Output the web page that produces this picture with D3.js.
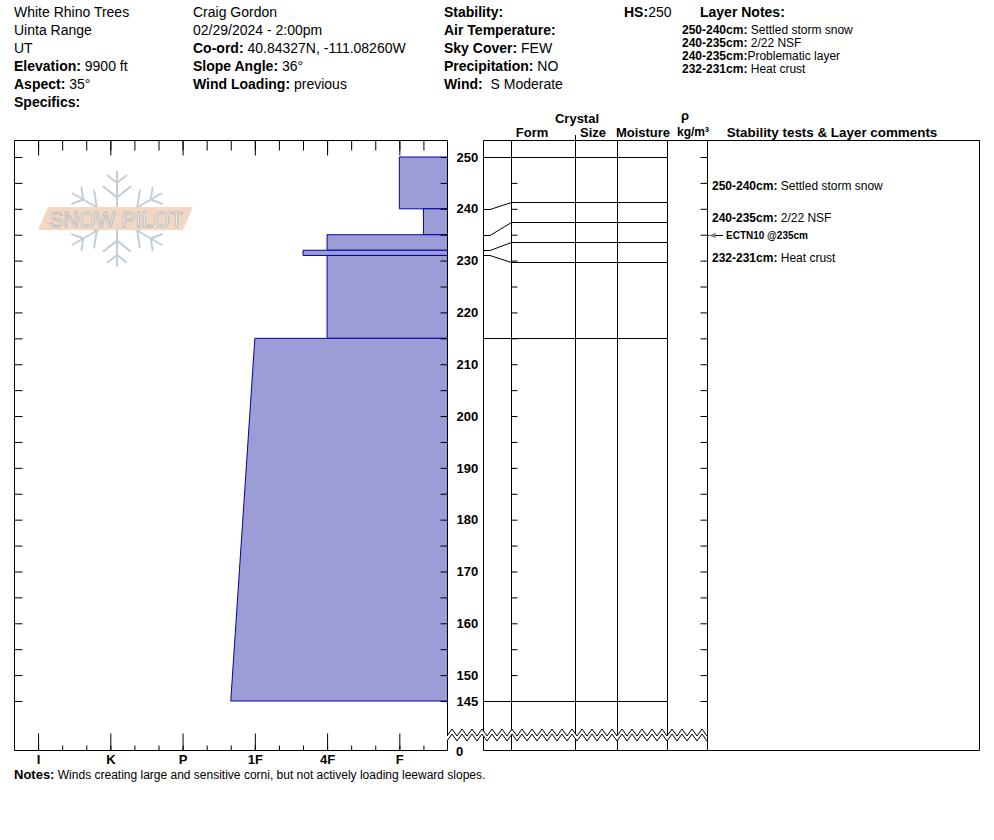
<!DOCTYPE html>
<html>
<head>
<meta charset="utf-8">
<script src="https://cdn.jsdelivr.net/npm/d3@7/dist/d3.min.js"></script>
<style>
	body { margin: 0; background: #fff; }
	svg text { font-family: "Liberation Sans", Arial, sans-serif; white-space: pre; }
</style>
</head>
<body>
<svg id="chart" width="994" height="840"></svg>
<script>
// ---------------------------------------------------------------
// Data read off the snow pit
// ---------------------------------------------------------------
const siteLines     = [["", "White Rhino Trees"], ["", "Uinta Range"], ["", "UT"], ["Elevation:", " 9900 ft"], ["Aspect:", " 35°"], ["Specifics:", ""]];
const observerLines = [["", "Craig Gordon"], ["", "02/29/2024 - 2:00pm"], ["Co-ord:", " 40.84327N, -111.08260W"], ["Slope Angle:", " 36°"], ["Wind Loading:", " previous"]];
const weatherLines  = [["Stability:", ""], ["Air Temperature:", ""], ["Sky Cover:", " FEW"], ["Precipitation:", " NO"], ["Wind:", "  S Moderate"]];
const snowHeight    = 250;

const noteRanges = ["250-240cm:", "240-235cm:", "240-235cm:", "232-231cm:"];
const noteTexts  = [" Settled storm snow", " 2/22 NSF", "Problematic layer", " Heat crust"];

// hand hardness scale (softest first)
const hardnessCodes  = ["F", "4F", "1F", "P", "K", "I"];

// layers, top to bottom
const layerTops      = [250, 240, 235, 232, 231, 215];
const layerBottoms   = [240, 235, 232, 231, 215, 145];
const hardnessTop    = ["F", "F-", "4F", "4F+", "4F", "1F"];
const hardnessBottom = ["F", "F-", "4F", "4F+", "4F", "1F+"];

const depthLabels = [250, 240, 230, 220, 210, 200, 190, 180, 170, 160, 150, 145];

const commentTops    = [250, 240, 232];
const commentBottoms = [240, 235, 231];
const commentRanges  = ["250-240cm:", "240-235cm:", "232-231cm:"];
const commentTexts   = [" Settled storm snow", " 2/22 NSF", " Heat crust"];

const testNames  = ["ECTN10 @235cm"];
const testDepths = [235];

const notesText = " Winds creating large and sensitive corni, but not actively loading leeward slopes.";

// ---------------------------------------------------------------
// helpers
// ---------------------------------------------------------------
// "4F+" -> numeric index, 0 = no resistance
function hardnessIndex(code) {
	var base = code.replace(/[+-]$/, "");
	var v = hardnessCodes.indexOf(base) * 3 + 2;
	if (code.endsWith("+")) v += 1;
	if (code.endsWith("-")) v -= 1;
	return v;
}

// push layer boundaries apart so each displayed layer is at least `gap` px tall
function spreadBoundaries(ys, gap) {
	var groups = ys.map(function (y, i) { return { first: i, last: i, center: y }; });
	var pos = function (g) {
		return d3.range(g.first, g.last + 1).map(function (_, k) {
			return g.center - (g.last - g.first) * gap / 2 + k * gap;
		});
	};
	var merged = true;
	while (merged) {
		merged = false;
		for (var i = 0; i < groups.length - 1; i++) {
			var pa = pos(groups[i]), pb = pos(groups[i + 1]);
			if (pb[0] - pa[pa.length - 1] < gap) {
				var g = { first: groups[i].first, last: groups[i + 1].last };
				g.center = (ys[g.first] + ys[g.last]) / 2;
				groups.splice(i, 2, g);
				merged = true;
				break;
			}
		}
	}
	return groups.flatMap(pos);
}

function boldLine(sel, x, y, pair, size) {
	var t = sel.append("text").attr("x", x).attr("y", y).attr("font-size", size);
	if (pair[0]) t.append("tspan").attr("font-weight", "bold").text(pair[0]);
	if (pair[1]) t.append("tspan").text(pair[1]);
	return t;
}

// ---------------------------------------------------------------
// layout
// ---------------------------------------------------------------
const svg = d3.select("#chart");
const topY = 140.5, bottomY = 750.5;
const hardLeft = 14.5, hardRight = 447.5;
const gridLeft = 483.5, gridRight = 979.5;
const colX = [511.5, 575.5, 617.5, 667.5, 707.5];

const x = d3.scaleLinear().domain([0, 18]).range([hardRight, hardLeft - 0.5]);
const y = d3.scaleLinear().domain([145, 250]).range([701, 157]);

// ---------------------------------------------------------------
// header
// ---------------------------------------------------------------
var header = svg.append("g").attr("fill", "#000");
siteLines.forEach(function (p, i) { boldLine(header, 14, 17 + i * 18, p, 14); });
observerLines.forEach(function (p, i) { boldLine(header, 193, 17 + i * 18, p, 14); });
weatherLines.forEach(function (p, i) { boldLine(header, 444, 17 + i * 18, p, 14); });
boldLine(header, 624, 17, ["HS:", String(snowHeight)], 14);
boldLine(header, 700, 17, ["Layer Notes:", ""], 14);
noteRanges.forEach(function (r, i) { boldLine(header, 682, 34 + i * 13, [r, noteTexts[i]], 12); });

// column headers
var colHead = svg.append("g").attr("font-weight", "bold").attr("font-size", 13).attr("text-anchor", "middle");
colHead.append("text").attr("x", 577).attr("y", 123).text("Crystal");
colHead.append("text").attr("x", 532).attr("y", 137).text("Form");
colHead.append("text").attr("x", 593).attr("y", 137).text("Size");
colHead.append("text").attr("x", 643).attr("y", 137).text("Moisture");
colHead.append("text").attr("x", 685).attr("y", 120).text("ρ");
colHead.append("text").attr("x", 693).attr("y", 136).attr("font-size", 12).text("kg/m³");
colHead.append("text").attr("x", 832).attr("y", 137).attr("font-size", 13.4).text("Stability tests & Layer comments");
svg.append("line").attr("x1", 575.5).attr("x2", 575.5).attr("y1", 135).attr("y2", topY).attr("stroke", "#000");

// ---------------------------------------------------------------
// Snow Pilot watermark
// ---------------------------------------------------------------
var logo = svg.append("g").attr("transform", "translate(117,219)");
var flake = logo.append("g").attr("stroke", "#c3ced7").attr("stroke-width", 2).attr("fill", "none");
[90, 30, 150, 210, 270, 330].forEach(function (a) {
	var arm = flake.append("g").attr("transform", "rotate(" + (-a) + ")");
	var len = (a === 90 || a === 270) ? 48 : 52;
	arm.append("line").attr("x1", 0).attr("y1", 0).attr("x2", len).attr("y2", 0);
	[len * 0.45, len * 0.75].forEach(function (d, k) {
		var b = k === 0 ? 14 : 10;
		arm.append("path").attr("d", "M" + (d + b * 0.8) + "," + (-b) + "L" + d + ",0L" + (d + b * 0.8) + "," + b);
	});
});
logo.append("path")
	.attr("d", "M-69,-12L76,-12L66,11L-79,11Z")
	.attr("fill", "#f2d8c3");
logo.append("text")
	.attr("x", -1).attr("y", 8)
	.attr("text-anchor", "middle")
	.attr("font-size", 22)
	.attr("textLength", 134)
	.attr("lengthAdjust", "spacingAndGlyphs")
	.attr("fill", "#fff")
	.attr("stroke", "#b9b9b9")
	.attr("stroke-width", 1)
	.text("SNOW PILOT");

// ---------------------------------------------------------------
// hardness profile
// ---------------------------------------------------------------
var line = d3.line().x(function (d) { return d[0]; }).y(function (d) { return d[1]; });
svg.append("g").selectAll("path")
	.data(layerTops.map(function (t, i) { return i; }))
	.join("path")
	.attr("d", function (i) {
		return line([
			[x(hardnessIndex(hardnessTop[i])), y(layerTops[i])],
			[x(0), y(layerTops[i])],
			[x(0), y(layerBottoms[i])],
			[x(hardnessIndex(hardnessBottom[i])), y(layerBottoms[i])]
		]) + "Z";
	})
	.attr("fill", "#9c9cd6")
	.attr("stroke", "#0000a8")
	.attr("stroke-width", 1);

// hardness plot frame
svg.append("path")
	.attr("d", "M" + hardLeft + "," + topY + "H" + hardRight + "V" + bottomY + "H" + hardLeft + "Z")
	.attr("fill", "none").attr("stroke", "#000");

var minorIdx = d3.range(1, 18);
var majorIdx = hardnessCodes.map(function (c) { return hardnessIndex(c); });

function styleAxis(g) {
	g.select(".domain").remove();
	g.selectAll("line").attr("stroke", "#000");
	g.selectAll("text").attr("fill", "#000").attr("font-weight", "bold").attr("font-size", 13)
		.attr("font-family", "'Liberation Sans', Arial, sans-serif");
}

svg.append("g").attr("transform", "translate(0," + topY + ")")
	.call(d3.axisBottom(x).tickValues(minorIdx).tickSize(10).tickFormat("")).call(styleAxis);
svg.append("g").attr("transform", "translate(0," + topY + ")")
	.call(d3.axisBottom(x).tickValues(majorIdx).tickSize(15).tickFormat("")).call(styleAxis);
svg.append("g").attr("transform", "translate(0," + bottomY + ")")
	.call(d3.axisBottom(x).tickValues(minorIdx).tickSizeInner(-5).tickSizeOuter(0).tickFormat("")).call(styleAxis);
svg.append("g").attr("transform", "translate(0," + bottomY + ")")
	.call(d3.axisBottom(x).tickValues(majorIdx).tickSizeInner(-17).tickSizeOuter(0).tickPadding(4)
		.tickFormat(function (v) { return hardnessCodes[(v - 2) / 3]; }))
	.call(styleAxis);

// depth ticks every 5 cm
var depthTicks = d3.range(145, 251, 5);
svg.append("g").attr("transform", "translate(" + hardLeft + ",0)")
	.call(d3.axisRight(y).tickValues(depthTicks).tickSize(8).tickFormat("")).call(styleAxis);
svg.append("g").attr("transform", "translate(" + hardRight + ",0)")
	.call(d3.axisRight(y).tickValues(depthTicks).tickSize(-7).tickFormat("")).call(styleAxis);
svg.append("g").attr("transform", "translate(" + hardRight + ",0)")
	.call(d3.axisRight(y).tickValues(depthLabels).tickSize(0).tickPadding(9).tickFormat(d3.format("d")))
	.call(styleAxis);
svg.append("text").attr("x", 456).attr("y", bottomY + 5).attr("font-weight", "bold").attr("font-size", 13).text("0");

// ---------------------------------------------------------------
// crystal grid
// ---------------------------------------------------------------
svg.append("path")
	.attr("d", "M" + gridLeft + "," + topY + "H" + gridRight + "V" + bottomY + "H" + gridLeft + "Z")
	.attr("fill", "none").attr("stroke", "#000");
svg.append("g").selectAll("line").data(colX).join("line")
	.attr("x1", function (d) { return d; }).attr("x2", function (d) { return d; })
	.attr("y1", topY).attr("y2", bottomY).attr("stroke", "#000");

svg.append("g").attr("transform", "translate(" + colX[0] + ",0)")
	.call(d3.axisRight(y).tickValues(depthTicks).tickSize(6).tickFormat("")).call(styleAxis);
svg.append("g").attr("transform", "translate(" + colX[4] + ",0)")
	.call(d3.axisLeft(y).tickValues(depthTicks).tickSize(7).tickFormat("")).call(styleAxis);

// layer boundaries, spread apart for legibility
var boundaries = layerTops.concat([layerBottoms[layerBottoms.length - 1]]);
var shown = spreadBoundaries(boundaries.map(function (d) { return y(d); }), 20);
var shownAt = function (depth) { return shown[boundaries.indexOf(depth)]; };

svg.append("g").selectAll("path").data(boundaries).join("path")
	.attr("d", function (d, i) {
		var ya = Math.round(y(d)) + 0.5, yd = Math.round(shown[i]) + 0.5;
		return "M" + gridLeft + "," + ya + "H490L" + colX[0] + "," + yd + "H" + colX[3];
	})
	.attr("fill", "none").attr("stroke", "#000");

// ---------------------------------------------------------------
// comments and tests
// ---------------------------------------------------------------
commentRanges.forEach(function (r, i) {
	var mid = (shownAt(commentTops[i]) + shownAt(commentBottoms[i])) / 2;
	boldLine(svg, 712, mid + 10, [r, commentTexts[i]], 12);
});

testNames.forEach(function (n, i) {
	var ty = Math.round(y(testDepths[i])) + 0.5;
	svg.append("line").attr("x1", colX[4]).attr("x2", 723).attr("y1", ty).attr("y2", ty).attr("stroke", "#000");
	svg.append("path").attr("d", "M" + (colX[4] + 1) + "," + ty + "l8,-3l-2,3l2,3Z").attr("fill", "#888");
	svg.append("text").attr("x", 726).attr("y", ty + 3.5).attr("font-size", 10).attr("font-weight", "bold").text(n);
});

// ---------------------------------------------------------------
// depth break (zig-zag)
// ---------------------------------------------------------------
var zx = d3.range(447, 708, 5);
var zig = zx.map(function (v, i) { return [v, i % 2 ? 729 : 736]; });
var zag = zig.map(function (p) { return [p[0], p[1] + 5]; });
svg.append("path").attr("d", line(zig.concat(zag.slice().reverse())) + "Z").attr("fill", "#fff");
svg.append("path").attr("d", line(zig)).attr("fill", "none").attr("stroke", "#000");
svg.append("path").attr("d", line(zag)).attr("fill", "none").attr("stroke", "#000");

// ---------------------------------------------------------------
// notes
// ---------------------------------------------------------------
var notes = svg.append("text").attr("x", 14).attr("y", 779);
notes.append("tspan").attr("font-weight", "bold").attr("font-size", 13).text("Notes:");
notes.append("tspan").attr("font-size", 12).text(notesText);
</script>
</body>
</html>
